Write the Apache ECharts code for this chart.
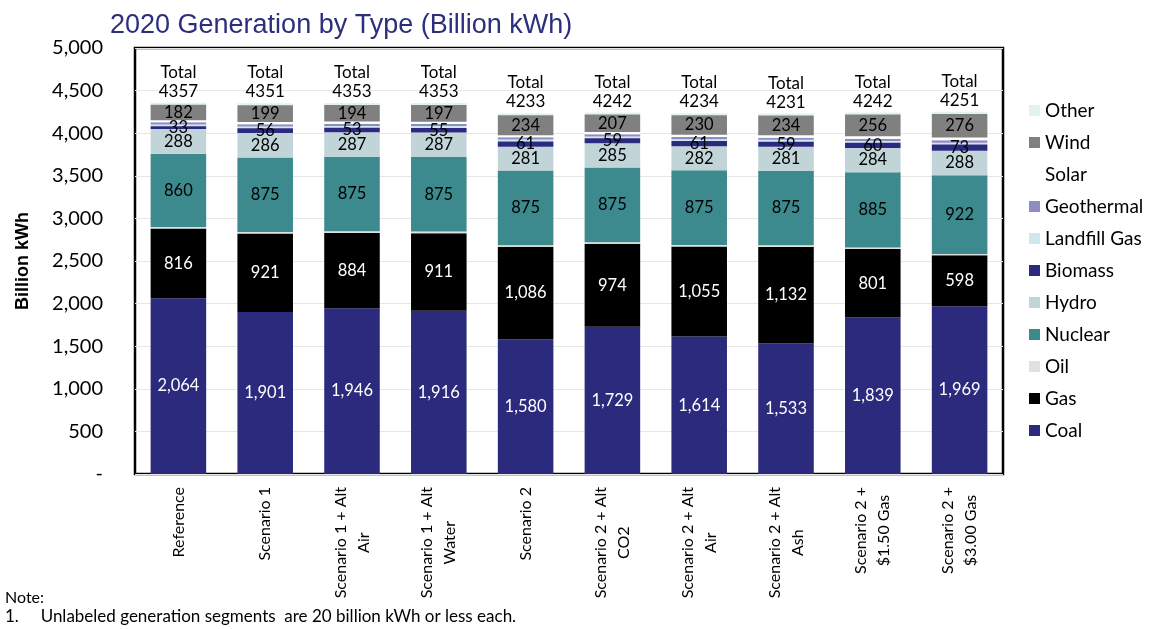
<!DOCTYPE html>
<html>
<head>
<meta charset="utf-8">
<script src="https://cdn.jsdelivr.net/npm/echarts@6/dist/echarts.min.js"></script>
<style>
  html, body { margin: 0; padding: 0; background: #fff; }
  #chart { width: 1155px; height: 629px; }
</style>
</head>
<body>
<div id="chart"></div>
<script>
const categories = [
  'Reference', 'Scenario 1', 'Scenario 1 + Alt\nAir', 'Scenario 1 + Alt\nWater', 'Scenario 2',
  'Scenario 2 + Alt\nCO2', 'Scenario 2 + Alt\nAir', 'Scenario 2 + Alt\nAsh', 'Scenario 2 +\n$1.50 Gas', 'Scenario 2 +\n$3.00 Gas'
]

const coal = [2064, 1901, 1946, 1916, 1580, 1729, 1614, 1533, 1839, 1969]
const gas = [816, 921, 884, 911, 1086, 974, 1055, 1132, 801, 598]
const oil = [20, 18, 18, 18, 20, 18, 20, 20, 18, 16]
const nuclear = [860, 875, 875, 875, 875, 875, 875, 875, 885, 922]
const hydro = [288, 286, 287, 287, 281, 285, 282, 281, 284, 288]
const biomass = [33, 56, 53, 55, 61, 59, 61, 59, 60, 73]
const landfill = [22, 22, 22, 22, 22, 22, 22, 22, 22, 22]
const geothermal = [25, 25, 25, 25, 26, 25, 26, 26, 26, 28]
const solar = [25, 26, 27, 25, 26, 26, 27, 27, 28, 33]
const wind = [182, 199, 194, 197, 234, 207, 230, 234, 256, 276]
const other = [22, 22, 22, 22, 22, 22, 22, 22, 23, 26]
const totals = [4357, 4351, 4353, 4353, 4233, 4242, 4234, 4231, 4242, 4251]

const yTicks = [0, 500, 1000, 1500, 2000, 2500, 3000, 3500, 4000, 4500, 5000]

const FONT = 'Lato, "Open Sans", sans-serif'

const chart = echarts.init(document.getElementById('chart'))

const fmtNum = v => v.toLocaleString('en-US')

const barSeries = (name, data, color, label) => ({
  name,
  type: 'bar',
  stack: 'total',
  barWidth: '64%',
  data,
  itemStyle: { color },
  label: label ? {
    show: true,
    position: 'inside',
    color: label,
    fontFamily: FONT,
    fontSize: 16.5,
    formatter: p => fmtNum(p.value)
  } : { show: false }
})

const series = [
  barSeries('Coal', coal, '#2b2a7c', '#ffffff'),
  barSeries('Gas', gas, '#000000', '#ffffff'),
  barSeries('Oil', oil, '#e0e0e0'),
  barSeries('Nuclear', nuclear, '#3c8a8e', '#000000'),
  barSeries('Hydro', hydro, '#c1d5d8', '#000000'),
  barSeries('Biomass', biomass, '#2b2a80', '#000000'),
  barSeries('Landfill Gas', landfill, '#cde9ed'),
  barSeries('Geothermal', geothermal, '#8d8dc0'),
  barSeries('Solar', solar, '#ffffff'),
  barSeries('Wind', wind, '#808080', '#000000'),
  barSeries('Other', other, '#e2f2f3')
]

// total labels on top of the stack
series[series.length - 1].label = {
  show: true,
  position: 'top',
  distance: 2,
  color: '#000',
  fontFamily: FONT,
  fontSize: 17,
  lineHeight: 19,
  formatter: p => 'Total\n' + totals[p.dataIndex]
}
series[5].z = 3
series[9].z = 3

const option = {
  backgroundColor: '#fff',
  animation: false,
  title: {
    text: '2020 Generation by Type (Billion kWh)',
    left: 105,
    top: 7,
    textStyle: {
      color: '#2c2e7e',
      fontFamily: 'Arial, "Liberation Sans", sans-serif',
      fontSize: 27,
      fontWeight: 'normal'
    }
  },
  legend: {
    orient: 'vertical',
    left: 1024,
    top: 96,
    itemWidth: 11,
    itemHeight: 11,
    itemGap: 13,
    itemStyle: { borderWidth: 0 },
    icon: 'rect',
    data: ['Other', 'Wind', 'Solar', 'Geothermal', 'Landfill Gas', 'Biomass', 'Hydro', 'Nuclear', 'Oil', 'Gas', 'Coal'],
    textStyle: {
      color: '#000',
      fontFamily: FONT,
      fontSize: 19,
      lineHeight: 19
    }
  },
  grid: {
    left: 135,
    right: 152,
    top: 48,
    bottom: 155,
    show: true,
    borderColor: '#000',
    borderWidth: 2.5,
    backgroundColor: '#fff'
  },
  xAxis: {
    type: 'category',
    data: categories,
    axisLine: { show: false },
    axisTick: { show: false },
    axisLabel: {
      interval: 0,
      rotate: 90,
      margin: 13,
      color: '#000',
      fontFamily: FONT,
      fontSize: 16,
      lineHeight: 23,
      formatter: v => v.split('\n').map(s => '{c|' + s + '}').join('\n'),
      rich: {
        c: { align: 'center', fontFamily: FONT, fontSize: 16, lineHeight: 23, color: '#000' }
      }
    }
  },
  yAxis: {
    type: 'value',
    min: yTicks[0],
    max: yTicks[yTicks.length - 1],
    interval: 500,
    name: 'Billion kWh',
    nameLocation: 'middle',
    nameGap: 103,
    nameTextStyle: {
      color: '#000',
      fontFamily: 'Arial, "Liberation Sans", sans-serif',
      fontSize: 18,
      fontWeight: 'bold'
    },
    axisLine: { show: false },
    axisTick: { show: false },
    axisLabel: {
      margin: 32,
      color: '#000',
      fontFamily: FONT,
      fontSize: 20,
      formatter: v => v === 0 ? '-' : fmtNum(v)
    },
    splitLine: { lineStyle: { color: '#e6e6e6', width: 1 } }
  },
  graphic: [
    {
      type: 'text',
      left: 5,
      top: 590,
      style: { text: 'Note:', fill: '#000', font: '16px ' + FONT }
    },
    {
      type: 'text',
      left: 5,
      top: 608,
      style: { text: '1.     Unlabeled generation segments  are 20 billion kWh or less each.', fill: '#000', font: '17px ' + FONT }
    }
  ],
  series
}

chart.setOption(option)
window.addEventListener('resize', () => chart.resize())
</script>
</body>
</html>
